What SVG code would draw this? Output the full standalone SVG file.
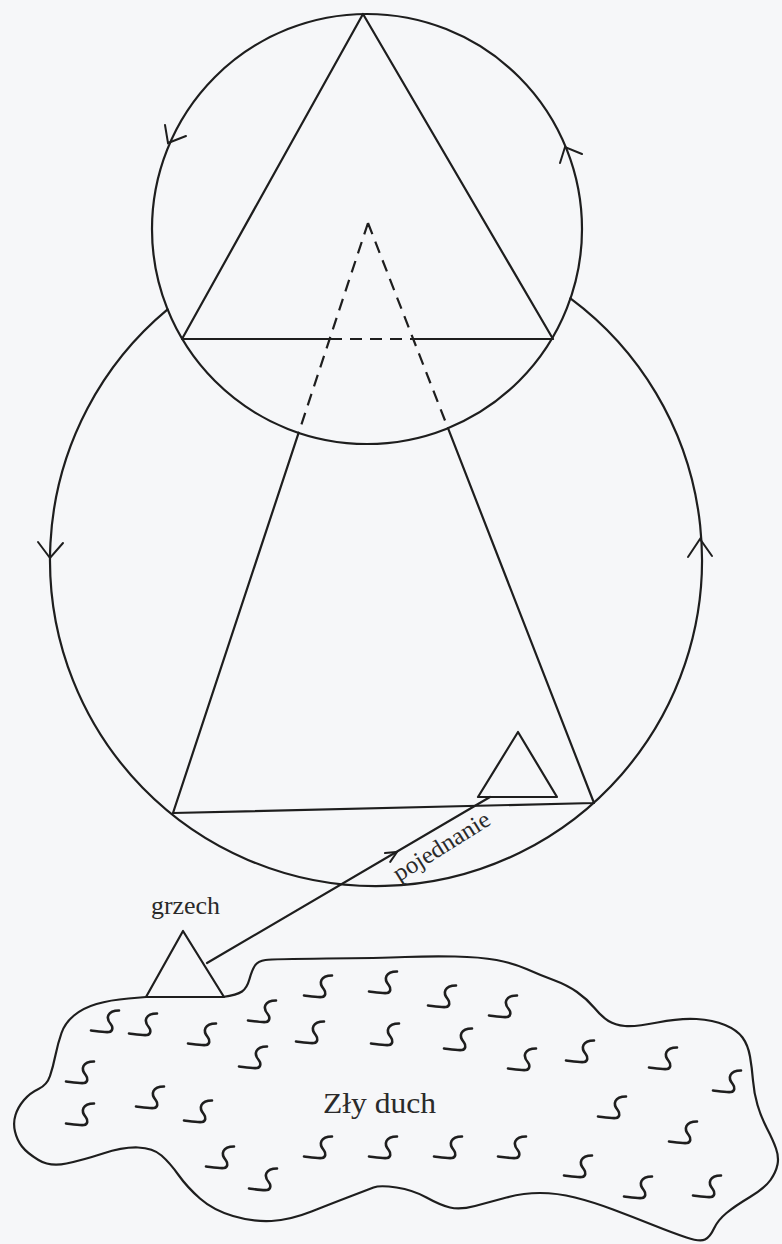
<svg xmlns="http://www.w3.org/2000/svg" xmlns:xlink="http://www.w3.org/1999/xlink" width="782" height="1244" viewBox="0 0 782 1244">
<style>
.ln{fill:none;stroke:#1e1e1e;stroke-width:2.2;stroke-linejoin:round;stroke-linecap:round}
.ds{fill:none;stroke:#1e1e1e;stroke-width:2.2;stroke-dasharray:12 8}
.ar{fill:none;stroke:#1e1e1e;stroke-width:2;stroke-linecap:round;stroke-linejoin:miter}
.sq{fill:none;stroke:#1e1e1e;stroke-width:2.6;stroke-linecap:round;stroke-linejoin:round}
.tx{font-family:"Liberation Serif","Times New Roman",serif;fill:#2a2a2a}
</style>
<defs>
<path id="sq" d="M-14,8.5 C-6,9.5 0,10.5 4,10 C8,9.5 8,5 6,2.5 C3,-1 2,-4 3.5,-7 C5,-10 9,-11.5 14,-11.5"/>
</defs>
<rect width="782" height="1244" fill="#f6f7f9"/>

<g id="top-circle">
<circle class="ln" cx="367" cy="229" r="215"/>
<path class="ar" d="M165,125 L168,143 L186,136"/>
<path class="ar" d="M560,163 L565,147 L582,154"/>
</g>

<g id="big-circle">
<path class="ln" d="M167.6,309.4 A326,326 0 1 0 570.4,298.4"/>
<path class="ar" d="M38,542 L50,558 L63,543"/>
<path class="ar" d="M688,557 L700,539 L712,556"/>
</g>

<g id="top-triangle">
<path class="ln" d="M330,339 L182,339 L363,14 L553,339 L413,339"/>
<path class="ds" d="M330,339 L413,339"/>
</g>

<g id="big-triangle">
<path class="ln" d="M298.6,432.9 L173,813 L594,803 L448,428.2"/>
<path class="ds" d="M368,223 L298.6,432.9 M368,223 L448,428.2"/>
</g>

<g id="small-triangle">
<path class="ln" d="M518,732 L478,797 L557,797 Z"/>
</g>

<g id="grzech">
<path class="ln" d="M183,931 L146,997 L224,997 Z"/>
<text class="tx" x="151" y="914" font-size="25" textLength="69" lengthAdjust="spacingAndGlyphs">grzech</text>
</g>

<g id="zly-duch">
<path class="ln" d="M223,997 Q237,995 242,991.5 Q247,988 249.5,979 Q252,970 255,965.5 Q258,961 265.5,960 Q273,959 326.5,958.5 Q380,958 405,957 Q430,956 455,956.5 Q480,957 496.5,960 Q513,963 526.5,969 Q540,975 553.5,980 Q567,985 577,992 Q587,999 594.5,1008 Q602,1017 608.5,1021 Q615,1025 625,1026 Q635,1027 657.5,1022.5 Q680,1018 696.5,1019 Q713,1020 725,1025 Q737,1030 742.5,1037.5 Q748,1045 750,1056.5 Q752,1068 753,1080.5 Q754,1093 757.5,1105 Q761,1117 767,1128.5 Q773,1140 776,1148.5 Q779,1157 777.5,1164.5 Q776,1172 770.5,1180 Q765,1188 750,1197 Q735,1206 726.5,1213 Q718,1220 714,1228.5 Q710,1237 705,1239.5 Q700,1242 686.5,1237.5 Q673,1233 653,1225 Q633,1217 613,1209.5 Q593,1202 575,1197.5 Q557,1193 540,1193 Q523,1193 506.5,1197.5 Q490,1202 475,1206 Q460,1210 450,1207.5 Q440,1205 426.5,1197.5 Q413,1190 396.5,1187.5 Q380,1185 373.5,1187.5 Q367,1190 350,1196.5 Q333,1203 311.5,1211.5 Q290,1220 271.5,1221 Q253,1222 233,1216 Q213,1210 200,1198.5 Q187,1187 178.5,1175 Q170,1163 161.5,1155.5 Q153,1148 138,1147.5 Q123,1147 103,1153.5 Q83,1160 66.5,1163.5 Q50,1167 38.5,1160 Q27,1153 22,1146.5 Q17,1140 15,1131.5 Q13,1123 15.5,1115 Q18,1107 24,1100 Q30,1093 38.5,1089 Q47,1085 50,1076 Q53,1067 55.5,1055 Q58,1043 61.5,1033 Q65,1023 74,1015.5 Q83,1008 96.5,1004 Q110,1000 128.5,998.5 L146,997"/>
<g class="sq">
<use href="#sq" x="318" y="987"/><use href="#sq" x="383" y="983"/><use href="#sq" x="262" y="1012"/>
<use href="#sq" x="105" y="1022"/><use href="#sq" x="143" y="1025"/><use href="#sq" x="202" y="1035"/>
<use href="#sq" x="310" y="1033"/><use href="#sq" x="385" y="1035"/><use href="#sq" x="253" y="1058"/>
<use href="#sq" x="80" y="1073"/><use href="#sq" x="150" y="1098"/><use href="#sq" x="80" y="1115"/>
<use href="#sq" x="198" y="1112"/><use href="#sq" x="318" y="1148"/><use href="#sq" x="383" y="1148"/>
<use href="#sq" x="220" y="1158"/><use href="#sq" x="263" y="1180"/><use href="#sq" x="442" y="997"/>
<use href="#sq" x="503" y="1007"/><use href="#sq" x="458" y="1040"/><use href="#sq" x="522" y="1060"/>
<use href="#sq" x="580" y="1052"/><use href="#sq" x="663" y="1059"/><use href="#sq" x="727" y="1082"/>
<use href="#sq" x="612" y="1108"/><use href="#sq" x="683" y="1133"/><use href="#sq" x="448" y="1148"/>
<use href="#sq" x="512" y="1148"/><use href="#sq" x="578" y="1167"/><use href="#sq" x="638" y="1188"/>
<use href="#sq" x="707" y="1187"/>
</g>
<text class="tx" x="323" y="1113" font-size="30" textLength="113" lengthAdjust="spacingAndGlyphs">Zły duch</text>
</g>

<g id="connectors">
<path class="ln" d="M207,963 L490,797"/>
<path class="ar" d="M390.2,861.9 L397,852 L385,853.1"/>
<text class="tx" transform="translate(399,882) rotate(-32)" font-size="24" textLength="110" lengthAdjust="spacingAndGlyphs">pojednanie</text>
</g>
</svg>
